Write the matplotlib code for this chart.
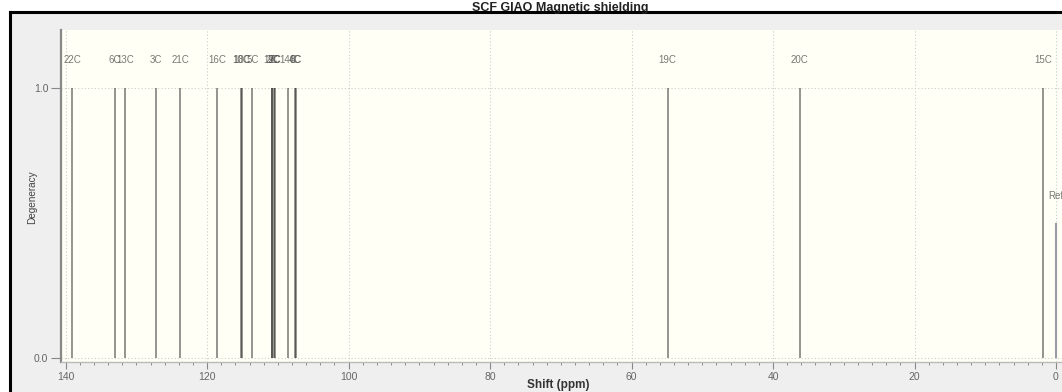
import matplotlib
matplotlib.use("Agg")
import matplotlib.pyplot as plt
from matplotlib.ticker import MultipleLocator, FixedLocator
from matplotlib.patches import Rectangle
from matplotlib.lines import Line2D

# Isotropic shielding shifts (ppm) and degeneracy for each carbon
shifts = [139.1, 133.0, 131.6, 127.2, 123.8, 118.6, 115.2, 115.1, 113.6,
          110.9, 110.85, 110.6, 110.4, 108.6, 107.6, 107.4, 54.9, 36.2, 1.8]
labels = ["22C", "6C", "13C", "3C", "21C", "16C", "10C", "18C", "5C",
          "2C", "12C", "9C", "7C", "14C", "4C", "8C", "19C", "20C", "15C"]
degeneracy = [1.0] * len(shifts)

# Reference line
ref_shift = 0.0
ref_height = 0.5
ref_label = "Ref"

x_ticks = [140, 120, 100, 80, 60, 40, 20, 0]
y_ticks = [0.0, 1.0]

W, H = 1062, 392
plt.rcParams["font.family"] = ["Liberation Sans", "DejaVu Sans"]
fig = plt.figure(figsize=(W / 100, H / 100), dpi=100, facecolor="white")

# window panel with dark frame on the left and top
fig.patches.append(Rectangle((10 / W, 0), 1, 1 - 13 / H, transform=fig.transFigure,
                             facecolor="#efefef", edgecolor="none", zorder=-5))
fig.lines.append(Line2D([9.5 / W, 9.5 / W], [0, 1 - 12 / H], transform=fig.transFigure,
                        color="black", lw=2.2, zorder=-4))
fig.lines.append(Line2D([9.5 / W, 1], [1 - 12 / H, 1 - 12 / H], transform=fig.transFigure,
                        color="black", lw=2.2, zorder=-4))

ax = fig.add_axes([61 / W, 1 - 362 / H, (W - 61) / W, (362 - 30) / H])
ax.set_zorder(5)
ax.set_facecolor("#fffff5")
ax.set_xlim(140.66, -0.85)
ax.set_ylim(-0.015, 1.215)

for s, d, lab in zip(shifts, degeneracy, labels):
    ax.vlines(s, 0, d, color="black", alpha=0.45, lw=1.3, zorder=3)
    ax.text(s, d + 0.105, lab, ha="center", va="center", fontsize=7,
            color="#555555", alpha=0.8, zorder=4, clip_on=False)

ax.vlines(ref_shift, 0, ref_height, color="#9a9aa8", lw=1.5, zorder=3)
ax.text(ref_shift, ref_height + 0.1, ref_label, ha="center", va="center",
        fontsize=7, color="#555555", alpha=0.8, zorder=4, clip_on=False)

ax.xaxis.set_major_locator(FixedLocator(x_ticks))
ax.xaxis.set_minor_locator(MultipleLocator(2))
ax.yaxis.set_major_locator(FixedLocator(y_ticks))
ax.set_yticklabels([f"{v:.1f}" for v in y_ticks])
ax.set_xticklabels([str(v) for v in x_ticks])

ax.tick_params(axis="x", which="major", length=5, width=0.8, color="#888888",
               labelsize=7.5, labelcolor="#666666", pad=2)
ax.tick_params(axis="x", which="minor", length=2.5, width=0.7, color="#888888")
ax.tick_params(axis="y", which="major", length=7, width=0.8, color="#888888",
               labelsize=7.5, labelcolor="#666666", pad=2)

ax.grid(True, which="major", axis="both", linestyle=(0, (1, 2)), color="#cccccc", lw=0.8)
ax.set_axisbelow(True)

for side in ["top", "right"]:
    ax.spines[side].set_visible(False)
ax.spines["left"].set_color("#888888")
ax.spines["left"].set_linewidth(1.6)
ax.spines["bottom"].set_color("#bbbbbb")
ax.spines["bottom"].set_linewidth(1.0)

fig.text(560 / W, 1 - 10.5 / H, "SCF GIAO Magnetic shielding", ha="center", va="baseline",
         fontsize=9, fontweight="bold", color="#222222")
fig.text(558 / W, 1 - 385 / H, "Shift (ppm)", ha="center", va="center",
         fontsize=8.5, fontweight="bold", color="#333333")
fig.text(32 / W, 1 - 197 / H, "Degeneracy", ha="center", va="center", rotation=90,
         fontsize=7.2, color="#444444")

fig.savefig("out.png", dpi=100, facecolor=fig.get_facecolor())
